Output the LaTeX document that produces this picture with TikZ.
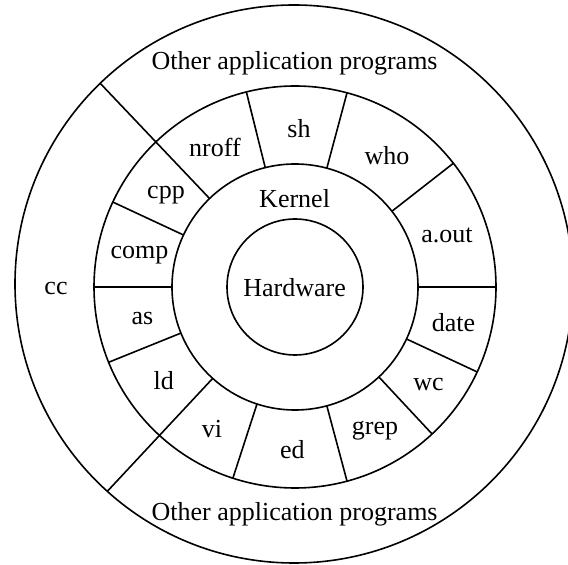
\documentclass[tikz,border=0pt]{standalone}
\usepackage{fontspec}
\setmainfont{Liberation Serif}
\begin{document}
\begin{tikzpicture}[x=1pt,y=1pt, line width=1.6pt,
  ring/.style={circle, draw, inner sep=0pt, outer sep=0pt},
  lbl/.style={font=\fontsize{26}{30}\selectfont, inner sep=0pt}]
\useasboundingbox (0,0) rectangle (568,565);
\clip (0,0) rectangle (568,565);
\coordinate (c) at (295,278);
% rings
\node[ring, minimum size=558pt] (outer) at (294,281) {};
\node[ring, minimum size=402pt] (apps) at (c) {};
\node[ring, minimum size=246pt] (kern) at (c) {};
\node[ring, minimum size=136pt] (hw) at (c) {};
% dividers in the application ring
\foreach \a in {0,38,75,104,155,180,-158,-108,-75,-47,-25}
  \draw (kern.\a) -- (apps.\a);
% long dividers reaching the outer circle
\draw (kern.134) -- (outer.134);
\draw (kern.-132) -- (outer.-132);
% labels
\node[lbl] (oaptop) at (294.6,501.6) {Other application programs};
\node[lbl] (oapbot) at (294.6,50.5) {Other application programs};
\node[lbl] (cc) at (56,276) {cc};
\node[lbl] (nroff) at (215,418) {nroff};
\node[lbl] (sh) at (299,436) {sh};
\node[lbl] (who) at (387,409) {who};
\node[lbl] (aout) at (447,329.5) {a.out};
\node[lbl] (date) at (453.6,242.5) {date};
\node[lbl] (wc) at (428.6,180) {wc};
\node[lbl] (grep) at (375,134) {grep};
\node[lbl] (ed) at (292.4,115.7) {ed};
\node[lbl] (vi) at (212,135.7) {vi};
\node[lbl] (ld) at (163.8,184.6) {ld};
\node[lbl] (as) at (142.4,246.2) {as};
\node[lbl] (comp) at (139.5,309.6) {comp};
\node[lbl] (cpp) at (166,370) {cpp};
\node[lbl] (kernel) at (294.6,366.4) {Kernel};
\node[lbl] (hardware) at (294.6,277) {Hardware};
\end{tikzpicture}
\end{document}
